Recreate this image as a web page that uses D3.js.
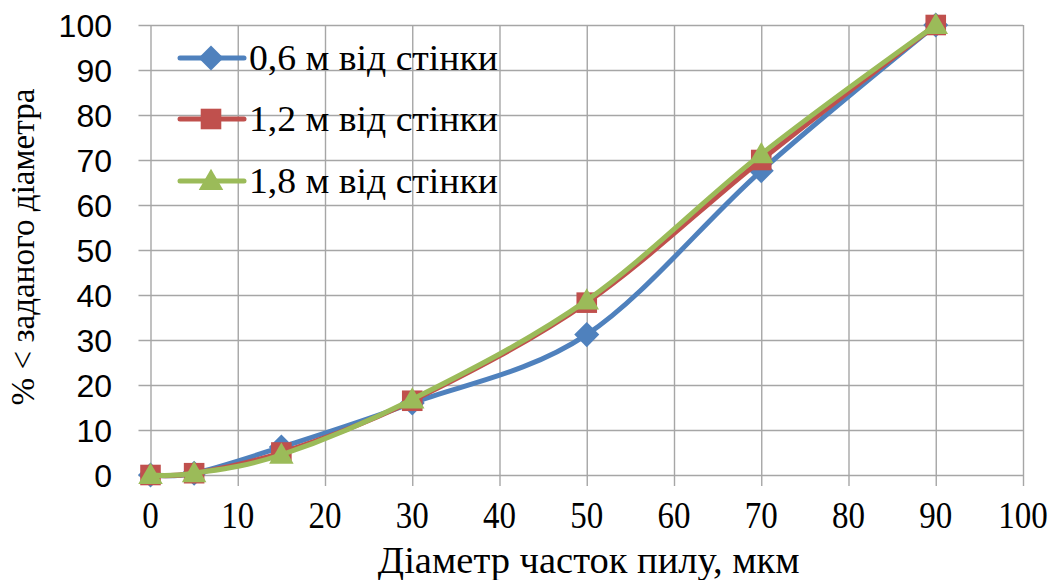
<!DOCTYPE html>
<html>
<head>
<meta charset="utf-8">
<script src="https://cdn.jsdelivr.net/npm/d3@7"></script>
<style>
  html, body { margin: 0; padding: 0; background: #fff; }
  svg { display: block; }
</style>
</head>
<body>
<svg id="chart" width="1056" height="580"></svg>
<script>
// Particle diameter (µm) and cumulative share (%) below that diameter
const diameters = [0, 5, 15, 30, 50, 70, 90];
const series06 = [0, 0.4, 6.2, 16, 31.2, 67.6, 100];
const series12 = [0, 0.4, 5, 16.5, 38.3, 70, 100];
const series18 = [0, 0.4, 4.5, 16.8, 38.8, 71.3, 100];
const seriesNames = ["0,6 м від стінки", "1,2 м від стінки", "1,8 м від стінки"];
const seriesColors = ["#4F81BD", "#C0504D", "#9BBB59"];
const seriesMarkers = ["diamond", "square", "triangle"];
const xTicks = [0, 10, 20, 30, 40, 50, 60, 70, 80, 90, 100];
const yTicks = [0, 10, 20, 30, 40, 50, 60, 70, 80, 90, 100];
const xTitle = "Діаметр часток пилу, мкм";
const yTitle = "% < заданого діаметра";

const SERIF = '"Liberation Serif"';
const SANS = '"Liberation Sans"';

const svg = d3.select("#chart");
const plotLeft = 150.5, plotRight = 1023, plotTop = 25, plotBottom = 475;

const x = d3.scaleLinear().domain([0, 100]).range([plotLeft, plotRight]);
const y = d3.scaleLinear().domain([0, 100]).range([plotBottom, plotTop]);

const gridColor = "#a6a6a6";

// serif text: set the family both as attribute and inline style
function serif(sel) {
  return sel.attr("font-family", "Liberation Serif").style("font-family", SERIF);
}

// place a text at (px, py) and squeeze/stretch it horizontally to a given width
function fitText(sel, px, py, width, extra = "") {
  sel.attr("x", 0).attr("y", 0);
  sel.each(function () {
    const w = this.getComputedTextLength();
    const s = w > 0 ? width / w : 1;
    d3.select(this).attr("transform", `translate(${px},${py}) ${extra} scale(${s},1)`);
  });
  return sel;
}

// vertical gridlines with tick stubs below the axis
const xAxis = d3.axisBottom(x).tickValues(xTicks).tickSize(-(plotBottom - plotTop)).tickFormat("");
const gx = svg.append("g").attr("transform", `translate(0,${plotBottom})`).call(xAxis);
gx.select(".domain").remove();
gx.selectAll(".tick line").attr("stroke", gridColor).attr("stroke-width", 1.4)
  .attr("y2", -(plotBottom - plotTop)).attr("y1", 11);

// horizontal gridlines with tick stubs left of the axis
const yAxis = d3.axisLeft(y).tickValues(yTicks).tickSize(-(plotRight - plotLeft)).tickFormat("");
const gy = svg.append("g").attr("transform", `translate(${plotLeft},0)`).call(yAxis);
gy.select(".domain").remove();
gy.selectAll(".tick line").attr("stroke", gridColor).attr("stroke-width", 1.4)
  .attr("x1", -12).attr("x2", plotRight - plotLeft);

// x tick labels (narrow serif)
serif(svg.append("g").selectAll("text").data(xTicks).join("text"))
  .attr("text-anchor", "middle")
  .attr("font-size", 37).attr("fill", "#000")
  .text(d => d)
  .each(function (d) {
    fitText(d3.select(this), x(d), 528, String(d).length * 16.5);
  });

// y tick labels
svg.append("g").selectAll("text").data(yTicks).join("text")
  .attr("font-family", "Liberation Sans").style("font-family", SANS)
  .attr("x", 112).attr("y", d => y(d)).attr("dy", "0.36em")
  .attr("text-anchor", "end")
  .attr("font-size", 32).attr("fill", "#000")
  .text(d => d);

// axis titles
fitText(serif(svg.append("text"))
  .attr("text-anchor", "middle")
  .attr("font-size", 38)
  .text(xTitle), (plotLeft + plotRight) / 2 + 2, 573, 422);

fitText(serif(svg.append("text"))
  .attr("text-anchor", "middle")
  .attr("font-size", 34)
  .text(yTitle), 34, 247, 317, "rotate(-90)");

// marker shapes
const symbolFor = {
  diamond: d3.symbol().type(d3.symbolDiamond2).size(400),
  square: d3.symbol().type(d3.symbolSquare2).size(540),
  triangle: d3.symbol().type(d3.symbolTriangle2).size(430)
};

const line = d3.line()
  .x((d, i) => x(diameters[i]))
  .y(d => y(d))
  .curve(d3.curveCardinal.tension(0));

const allSeries = [series06, series12, series18];

allSeries.forEach((vals, si) => {
  const g = svg.append("g");
  g.append("path")
    .datum(vals)
    .attr("d", line)
    .attr("fill", "none")
    .attr("stroke", seriesColors[si])
    .attr("stroke-width", 5)
    .attr("stroke-linejoin", "round")
    .attr("stroke-linecap", "round");
  g.selectAll("path.mk").data(vals).join("path")
    .attr("class", "mk")
    .attr("transform", (d, i) => `translate(${x(diameters[i])},${y(d) + (seriesMarkers[si] === "triangle" ? 2 : 0)})`)
    .attr("d", symbolFor[seriesMarkers[si]]())
    .attr("fill", seriesColors[si]);
});

// legend
const legendRows = [58, 119, 181];
seriesNames.forEach((name, i) => {
  const g = svg.append("g").attr("transform", `translate(0,${legendRows[i]})`);
  g.append("line")
    .attr("x1", 180).attr("x2", 244).attr("y1", 0).attr("y2", 0)
    .attr("stroke", seriesColors[i]).attr("stroke-width", 5)
    .attr("stroke-linecap", "round");
  g.append("path")
    .attr("transform", `translate(211,${seriesMarkers[i] === "triangle" ? 2 : 0})`)
    .attr("d", symbolFor[seriesMarkers[i]]())
    .attr("fill", seriesColors[i]);
  fitText(serif(g.append("text"))
    .attr("font-size", 36)
    .text(name), 249, 12, 249);
});
</script>
</body>
</html>
